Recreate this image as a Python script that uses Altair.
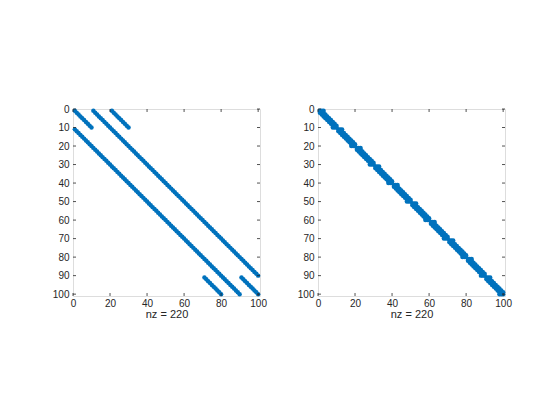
import altair as alt
import pandas as pd

# Sparse matrix structure (100x100, nz = 220), as diagonal segments
N = 100
seg_row_start = [11, 1, 1, 1, 91, 91]
seg_col_start = [1, 11, 1, 21, 71, 91]
seg_len = [90, 90, 10, 10, 10, 10]

x_ticks = [0, 20, 40, 60, 80, 100]
y_ticks = [0, 10, 20, 30, 40, 50, 60, 70, 80, 90, 100]
xlabel = "nz = 220"
blue = "#0072BD"
axis_color = "#262626"

rows, cols = [], []
for r0, c0, n in zip(seg_row_start, seg_col_start, seg_len):
    for k in range(n):
        rows.append(r0 + k)
        cols.append(c0 + k)
left_df = pd.DataFrame({"col": cols, "row": rows})

# symmetric reordering grouping indices by residue mod 10
perm = [r + 10 * k for r in range(1, 11) for k in range(10)]
inv = {old: new + 1 for new, old in enumerate(perm)}
right_df = pd.DataFrame({"col": [inv[c] for c in cols], "row": [inv[r] for r in rows]})

W = H = 187
TL = 3
xs = alt.Scale(domain=[0, N + 1], nice=False, zero=False)
ys = alt.Scale(domain=[0, N + 1], nice=False, zero=False, reverse=True)

xt_df = pd.DataFrame({"v": x_ticks})
yt_df = pd.DataFrame({"v": y_ticks})

xaxis = alt.Axis(values=x_ticks, title=xlabel, ticks=False, domain=False,
                 grid=False, labelPadding=2, titlePadding=0,
                 labelOverlap=False, labelFlush=False,
                 labelFontSize=10, titleFontSize=11, titleFontWeight="normal",
                 labelFont="Liberation Sans", titleFont="Liberation Sans",
                 labelColor=axis_color, titleColor=axis_color)
yaxis = alt.Axis(values=y_ticks, title=None, ticks=False, domain=False,
                 grid=False, labelPadding=4, labelFontSize=10,
                 labelOverlap=False, labelFlush=False,
                 labelFont="Liberation Sans", labelColor=axis_color)


def panel(df):
    pts = alt.Chart(df).mark_circle(size=20, opacity=1, color=blue).encode(
        x=alt.X("col:Q", scale=xs, axis=xaxis),
        y=alt.Y("row:Q", scale=ys, axis=yaxis),
    )
    xb = alt.Chart(xt_df).mark_rule(color=axis_color, strokeWidth=0.8).encode(
        x=alt.X("v:Q", scale=xs, axis=xaxis), y=alt.value(H), y2=alt.value(H - TL))
    xtop = alt.Chart(xt_df).mark_rule(color=axis_color, strokeWidth=0.8).encode(
        x=alt.X("v:Q", scale=xs, axis=xaxis), y=alt.value(0), y2=alt.value(TL))
    yl = alt.Chart(yt_df).mark_rule(color=axis_color, strokeWidth=0.8).encode(
        y=alt.Y("v:Q", scale=ys, axis=yaxis), x=alt.value(0), x2=alt.value(TL))
    yr = alt.Chart(yt_df).mark_rule(color=axis_color, strokeWidth=0.8).encode(
        y=alt.Y("v:Q", scale=ys, axis=yaxis), x=alt.value(W), x2=alt.value(W - TL))
    return alt.layer(pts, xb, xtop, yl, yr).properties(width=W, height=H)


chart = alt.hconcat(panel(left_df), panel(right_df), spacing=29).properties(
    padding={"left": 43, "top": 95, "right": 5, "bottom": 5}
).configure_view(stroke=axis_color, strokeWidth=1).configure(background="white")

chart.save("out.html", embed_options={"renderer": "svg", "actions": False})
